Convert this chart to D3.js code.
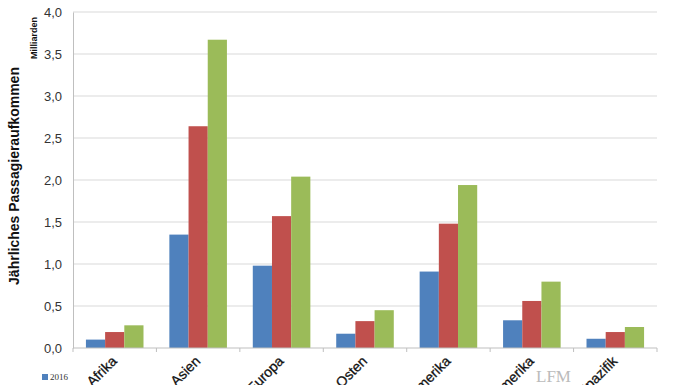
<!DOCTYPE html>
<html>
<head>
<meta charset="utf-8">
<script src="https://cdn.jsdelivr.net/npm/d3@7"></script>
<style>
  body { margin: 0; background: #fff; }
  svg { display: block; font-family: "Liberation Sans", Arial, sans-serif; }
</style>
</head>
<body>
<div id="chart"></div>
<script>
// data (Milliarden Passagiere)
var regions = ["Afrika", "Asien", "Europa", "Naher Osten", "Nordamerika", "Lateinamerika", "Südwestpazifik"];
var years = ["2016", "2026", "2036"];
var v2016 = [0.10, 1.35, 0.98, 0.17, 0.91, 0.33, 0.11];
var v2026 = [0.19, 2.64, 1.57, 0.32, 1.48, 0.56, 0.19];
var v2036 = [0.27, 3.67, 2.04, 0.45, 1.94, 0.79, 0.25];
var yTicks = [0, 0.5, 1, 1.5, 2, 2.5, 3, 3.5, 4];
var colors = ["#4f81bd", "#c0504d", "#9bbb59"];

var series = [v2016, v2026, v2036];

var W = 696, H = 385;
var margin = {top: 12, right: 39, bottom: 37, left: 73},
    width = W - margin.left - margin.right,
    height = H - margin.top - margin.bottom;

var svg = d3.select("#chart")
  .append("svg")
  .attr("width", W)
  .attr("height", H);

var chart = svg.append("g")
  .attr("transform", "translate(" + margin.left + "," + margin.top + ")");

var x0 = d3.scaleBand().domain(regions).range([0, width]).paddingInner(0.31).paddingOuter(0.155);
var x1 = d3.scaleBand().domain(years).range([0, x0.bandwidth()]);
var y = d3.scaleLinear().domain([0, 4]).range([height, 0]);

// gridlines
chart.append("g")
  .selectAll("line")
  .data(yTicks.slice(1))
  .enter()
  .append("line")
  .attr("x1", 0)
  .attr("x2", width)
  .attr("y1", d => y(d))
  .attr("y2", d => y(d))
  .style("stroke", "#d9d9d9")
  .style("stroke-width", 1);

// y axis
var yAxis = chart.append("g")
  .call(d3.axisLeft(y).tickValues(yTicks).tickSize(0).tickPadding(11)
    .tickFormat(d => d3.format(".1f")(d).replace(".", ",")));
yAxis.select(".domain").style("stroke", "#bfbfbf");
yAxis.selectAll("text")
  .style("font-size", "13px")
  .style("fill", "#333");

// bars
var groups = chart.selectAll(".grp")
  .data(regions)
  .enter()
  .append("g")
  .attr("transform", d => "translate(" + x0(d) + ",0)");

groups.selectAll("rect")
  .data((d, i) => years.map((yr, k) => ({year: yr, value: series[k][i], k: k})))
  .enter()
  .append("rect")
  .attr("x", d => x1(d.year))
  .attr("width", x1.bandwidth())
  .attr("y", d => y(d.value))
  .attr("height", d => height - y(d.value))
  .style("fill", d => colors[d.k]);

// x axis line with ticks at category boundaries
var xAxisG = chart.append("g")
  .attr("transform", "translate(0," + height + ")");
xAxisG.append("line")
  .attr("x1", 0).attr("x2", width)
  .style("stroke", "#bfbfbf");
xAxisG.selectAll(".tk")
  .data(d3.range(regions.length + 1))
  .enter()
  .append("line")
  .attr("x1", i => i * width / regions.length)
  .attr("x2", i => i * width / regions.length)
  .attr("y1", 0).attr("y2", 4)
  .style("stroke", "#bfbfbf");

// category labels, rotated (cut off at the bottom edge like the original)
xAxisG.selectAll(".lbl")
  .data(regions)
  .enter()
  .append("text")
  .attr("text-anchor", "end")
  .attr("transform", d => "translate(" + (x0(d) + x0.bandwidth() / 2 + 3) + ",14) rotate(-45)")
  .style("font-size", "14px")
  .style("fill", "#111")
  .style("stroke", "#111")
  .style("stroke-width", 0.3)
  .text(d => d);

// y axis title
svg.append("text")
  .attr("text-anchor", "middle")
  .attr("transform", "translate(19,176) rotate(-90)")
  .style("font-size", "14px")
  .style("font-weight", "bold")
  .style("fill", "#111")
  .text("Jährliches Passagieraufkommen");

svg.append("text")
  .attr("text-anchor", "middle")
  .attr("transform", "translate(37,38) rotate(-90)")
  .style("font-size", "9px")
  .style("font-weight", "bold")
  .style("fill", "#111")
  .text("Milliarden");

// legend (vertical, mostly below visible area)
var legend = svg.append("g")
  .attr("transform", "translate(42,380)");
legend.selectAll("g")
  .data(years)
  .enter()
  .append("g")
  .attr("transform", (d, i) => "translate(0," + i * 14 + ")")
  .each(function(d, i) {
    var g = d3.select(this);
    g.append("rect").attr("x", 0).attr("y", -6).attr("width", 6).attr("height", 6).style("fill", colors[i]);
    g.append("text").attr("x", 8).attr("y", 0)
      .style("font-family", "'Liberation Serif', serif")
      .style("font-size", "9px")
      .style("fill", "#333")
      .text(d);
  });

// watermark
svg.append("text")
  .attr("x", 536)
  .attr("y", 382)
  .style("font-family", "'Liberation Serif', serif")
  .style("font-size", "17px")
  .style("fill", "#bbb")
  .text("LFM");
</script>
</body>
</html>
